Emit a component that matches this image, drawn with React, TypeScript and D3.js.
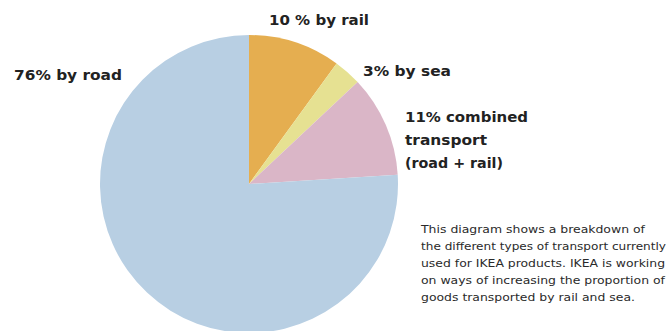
import React from "react";
import * as d3 from "d3";

const categories = ["10 % by rail", "3% by sea", "11% combined transport (road + rail)", "76% by road"];
const shares = [10, 3, 11, 76];
const colors = ["#E5AE50", "#E6E192", "#DAB6C7", "#B8CFE3"];

const noteLines = [
  "This diagram shows a breakdown of",
  "the different types of transport currently",
  "used for IKEA products. IKEA is working",
  "on ways of increasing the proportion of",
  "goods transported by rail and sea.",
];

const W = 667;
const H = 331;
const CX = 249;
const CY = 184;
const R = 149;

// label layout: lines, x, first baseline, line step, widths per line
const labelLayout = [
  { lines: ["10 % by rail"], x: 269, y: 25, widths: [100] },
  { lines: ["3% by sea"], x: 363, y: 76, widths: [88] },
  { lines: ["11% combined", "transport", "(road + rail)"], x: 405, y: 122, step: 23, widths: [123, 82, 98] },
  { lines: ["76% by road"], x: 14, y: 80, widths: [108] },
];
const noteWidths = [224, 245, 244, 244, 214];

export default function App() {
  const pie = d3.pie<number>().sort(null).value((d) => d)(shares);
  const arc = d3.arc<d3.PieArcDatum<number>>().innerRadius(0).outerRadius(R);
  const font = "'DejaVu Sans', sans-serif";
  return (
    <svg width={W} height={H} style={{ position: "absolute", left: 0, top: 0, background: "#fff" }}>
      <g transform={`translate(${CX},${CY})`}>
        {pie.map((p, i) => (
          <path key={categories[i]} d={arc(p) || ""} fill={colors[i]} />
        ))}
      </g>
      {labelLayout.map((l, i) => (
        <text key={i} fontFamily={font} fontWeight="bold" fontSize={14.5} fill="#222">
          {l.lines.map((ln, j) => (
            <tspan key={j} x={l.x} y={l.y + j * (l.step || 0)} textLength={l.widths[j]} lengthAdjust="spacingAndGlyphs">
              {ln}
            </tspan>
          ))}
        </text>
      ))}
      <text fontFamily={font} fontSize={11} fill="#2a2a2a">
        {noteLines.map((ln, j) => (
          <tspan key={j} x={421} y={233 + j * 17} textLength={noteWidths[j]} lengthAdjust="spacingAndGlyphs">
            {ln}
          </tspan>
        ))}
      </text>
    </svg>
  );
}
